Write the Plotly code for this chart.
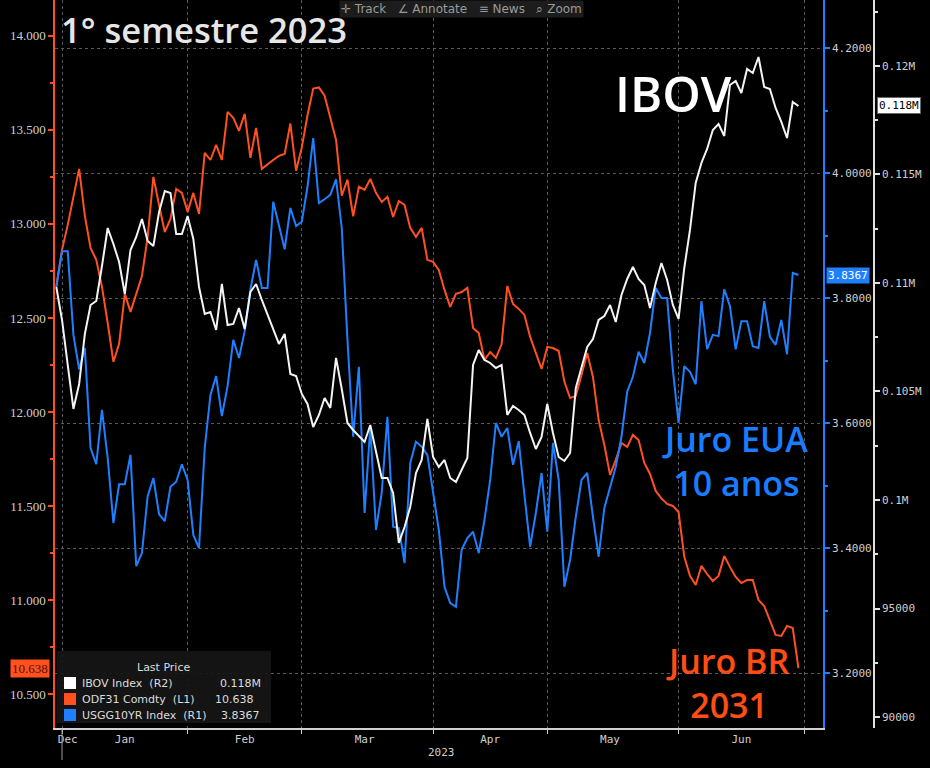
import pandas as pd
import plotly.graph_objects as go

# ---------------- data ----------------
dates = pd.bdate_range("2022-12-30", "2023-06-30")

odf31 = [12.665, 12.862, 12.995, 13.144, 13.293, 13.043, 12.872, 12.809, 12.665, 12.473,
         12.266, 12.362, 12.628, 12.532, 12.628, 12.723, 12.931, 13.250, 13.101, 12.957,
         13.027, 13.186, 13.165, 13.064, 13.165, 13.053, 13.378, 13.340, 13.420, 13.340,
         13.596, 13.564, 13.495, 13.585, 13.351, 13.511, 13.293, 13.319, 13.340, 13.362,
         13.372, 13.534, 13.283, 13.407, 13.578, 13.720, 13.726, 13.682, 13.569, 13.447,
         13.150, 13.236, 13.040, 13.198, 13.181, 13.239, 13.165, 13.117, 13.144, 13.037,
         13.122, 13.101, 12.979, 12.931, 12.979, 12.809, 12.798, 12.755, 12.649, 12.559,
         12.628, 12.638, 12.660, 12.447, 12.420, 12.277, 12.319, 12.287, 12.360, 12.670,
         12.574, 12.548, 12.516, 12.399, 12.314, 12.229, 12.346, 12.340, 12.324, 12.160,
         12.074, 12.085, 12.197, 12.314, 12.186, 11.957, 11.824, 11.665, 11.745, 11.835,
         11.814, 11.878, 11.851, 11.729, 11.670, 11.580, 11.540, 11.511, 11.500, 11.468,
         11.229, 11.128, 11.080, 11.181, 11.138, 11.101, 11.128, 11.234, 11.176, 11.122,
         11.090, 11.106, 11.106, 11.000, 10.968, 10.894, 10.814, 10.809, 10.862, 10.851,
         10.638]

usgg10yr = [3.818, 3.875, 3.875, 3.741, 3.686, 3.720, 3.560, 3.534, 3.621, 3.544,
            3.440, 3.502, 3.502, 3.549, 3.371, 3.392, 3.483, 3.512, 3.454, 3.443,
            3.498, 3.506, 3.534, 3.509, 3.421, 3.400, 3.560, 3.645, 3.675, 3.611,
            3.659, 3.733, 3.704, 3.747, 3.814, 3.861, 3.816, 3.816, 3.954, 3.917,
            3.878, 3.944, 3.915, 3.922, 3.978, 4.056, 3.952, 3.958, 3.965, 3.990,
            3.912, 3.733, 3.578, 3.690, 3.456, 3.594, 3.429, 3.488, 3.610, 3.434,
            3.432, 3.376, 3.536, 3.570, 3.562, 3.549, 3.490, 3.429, 3.338, 3.312,
            3.306, 3.397, 3.416, 3.426, 3.392, 3.445, 3.509, 3.600, 3.578, 3.592,
            3.533, 3.571, 3.485, 3.402, 3.456, 3.520, 3.426, 3.568, 3.509, 3.338,
            3.381, 3.450, 3.509, 3.520, 3.450, 3.386, 3.464, 3.498, 3.530, 3.578,
            3.650, 3.674, 3.714, 3.696, 3.744, 3.816, 3.800, 3.800, 3.685, 3.600,
            3.691, 3.682, 3.662, 3.795, 3.718, 3.741, 3.739, 3.814, 3.787, 3.718,
            3.763, 3.763, 3.723, 3.720, 3.795, 3.738, 3.725, 3.765, 3.710, 3.840,
            3.8367]

ibov = [109816, 108296, 106222, 104195, 105347, 107651, 108987, 109171, 110784, 112535,
        111798, 110968, 109494, 111521, 112120, 112950, 111936, 111706, 113272, 114240,
        114148, 112259, 112259, 113088, 112028, 109816, 108572, 108664, 107835, 109955,
        108065, 108111, 108849, 107881, 109586, 109955, 109217, 108572, 107835, 107190,
        107651, 105807, 105715, 104886, 104425, 103365, 103918, 104701, 104241, 106545,
        105116, 103549, 103227, 102950, 102674, 103457, 102167, 101015, 101015, 100324,
        98020, 98757, 99679, 101245, 101844, 103734, 101983, 101522, 101844, 101015,
        100831, 101384, 101937, 106222, 106913, 106452, 106314, 106084, 106222, 103918,
        104333, 104148, 103918, 103089, 102351, 102904, 104425, 103089, 101983, 101798,
        102167, 105162, 106084, 107052, 107420, 108296, 108480, 108987, 108204, 109448,
        110185, 110738, 110185, 109908, 108849, 110001, 110922, 110139, 108987, 108342,
        110692, 112443, 114609, 115530, 116175, 117051, 117327, 116774, 119124, 119309,
        118756, 119862, 119677, 120415, 119032, 118940, 118065, 117420, 116682, 118341,
        118157]

month_starts = ["2023-01-02", "2023-02-01", "2023-03-01", "2023-04-03",
                "2023-05-01", "2023-06-01", "2023-07-03"]
month_label_dates = ["2023-01-03", "2023-01-17", "2023-02-15", "2023-03-16",
                     "2023-04-17", "2023-05-16", "2023-06-16"]
month_labels = ["Dec", "Jan", "Feb", "Mar", "Apr", "May", "Jun"]

ibov_tickvals = [90000, 95000, 100000, 105000, 110000, 115000, 120000]
ibov_ticktext = ["90000", "95000", "0.1M", "0.105M", "0.11M", "0.115M", "0.12M"]

legend_names = ["IBOV Index\u00a0\u00a0(R2)", "ODF31 Comdty\u00a0\u00a0(L1)", "USGG10YR Index\u00a0\u00a0(R1)"]
legend_values = ["0.118M", "10.638", "3.8367"]

# ---------------- style ----------------
ORANGE = "#ff5020"
BLUE = "#1f80ff"
WHITE = "#f4f4f4"
GRID = "#5a5a5a"
TICKTXT = "#cfcfcf"
MONO = "DejaVu Sans Mono"

W, H = 930, 768
ML, MR, MT, MB = 55, 56, 0, 40
PW, PH = W - ML - MR, H - MT - MB
XDOM = (823 - ML) / PW


def xp(px):
    return (px - ML) / PW


def yp(py):
    return (H - MB - py) / PH


fig = go.Figure()
fig.add_trace(go.Scatter(x=dates, y=odf31, yaxis="y", mode="lines",
                         line=dict(color=ORANGE, width=2), name="ODF31 Comdty", showlegend=False))
fig.add_trace(go.Scatter(x=dates, y=usgg10yr, yaxis="y2", mode="lines",
                         line=dict(color=BLUE, width=2), name="USGG10YR Index", showlegend=False))
fig.add_trace(go.Scatter(x=dates, y=ibov, yaxis="y3", mode="lines",
                         line=dict(color=WHITE, width=2), name="IBOV Index", showlegend=False))

fig.update_layout(
    width=W, height=H, autosize=False,
    margin=dict(l=ML, r=MR, t=MT, b=MB, pad=0),
    paper_bgcolor="black", plot_bgcolor="black",
    showlegend=False,
    xaxis=dict(
        domain=[0, XDOM], type="date",
        range=["2022-12-29 18:30", "2023-07-06 07:12"],
        rangebreaks=[dict(bounds=["sat", "mon"])],
        tickmode="array", tickvals=month_label_dates, ticktext=month_labels, ticks="",
        tickfont=dict(family=MONO, size=11, color=TICKTXT),
        showgrid=False, zeroline=False,
        showline=True, linecolor="#d0d0d0", linewidth=1.5,
        minor=dict(tickmode="array", tickvals=month_starts, ticks="outside", ticklen=4,
                   tickcolor="#d0d0d0", showgrid=True, gridcolor=GRID, griddash="dot", gridwidth=1),
    ),
    yaxis=dict(
        range=[10.319, 14.191], tickmode="linear", tick0=10.5, dtick=0.5, tickformat=".3f",
        side="left", showline=True, linecolor=ORANGE, linewidth=1.5,
        ticks="outside", ticklen=5, tickwidth=1.5, tickcolor=ORANGE,
        tickfont=dict(family="Liberation Serif", size=13, color=TICKTXT),
        showgrid=False, zeroline=False,
        minor=dict(tickmode="linear", tick0=10.5, dtick=0.25, ticks="outside", ticklen=3,
                   tickcolor=ORANGE, showgrid=False),
    ),
    yaxis2=dict(
        overlaying="y", side="right", anchor="x",
        range=[3.112, 4.2768], tickmode="linear", tick0=3.2, dtick=0.2, tickformat=".4f",
        showline=True, linecolor=BLUE, linewidth=1.5,
        ticks="outside", ticklen=5, tickwidth=1.5, tickcolor=BLUE,
        tickfont=dict(family=MONO, size=11, color=TICKTXT),
        showgrid=True, gridcolor=GRID, griddash="dot", gridwidth=1, zeroline=False,
        minor=dict(tickmode="linear", tick0=3.2, dtick=0.1, ticks="outside", ticklen=3,
                   tickcolor=BLUE, showgrid=False),
    ),
    yaxis3=dict(
        overlaying="y", side="right", anchor="free", position=1.0,
        range=[89493, 123041], tickmode="array", tickvals=ibov_tickvals, ticktext=ibov_ticktext,
        showline=True, linecolor="#e0e0e0", linewidth=1.5,
        ticks="outside", ticklen=5, tickwidth=1.5, tickcolor="#e0e0e0",
        tickfont=dict(family=MONO, size=11, color=TICKTXT),
        showgrid=False, zeroline=False,
        minor=dict(tickmode="linear", tick0=0, dtick=2500, ticks="outside", ticklen=3,
                   tickcolor="#e0e0e0", showgrid=False),
    ),
)

ann = []
# title and big labels
ann.append(dict(text="1° semestre 2023", xref="paper", yref="paper", x=xp(59), y=yp(30),
                xanchor="left", yanchor="middle", showarrow=False,
                font=dict(family="Open Sans", size=34.5, color="#e6e6e6", weight=600)))
ann.append(dict(text="IBOV", xref="paper", yref="paper", x=xp(673), y=yp(93),
                xanchor="center", yanchor="middle", showarrow=False,
                font=dict(family="Open Sans", size=49, color="#ffffff", weight=600)))
ann.append(dict(text="Juro EUA<br>10 anos", xref="paper", yref="paper", x=xp(735), y=yp(461),
                xanchor="center", yanchor="middle", align="center", showarrow=False,
                font=dict(family="Open Sans", size=34, color="#1a7cff", weight=600)))
ann.append(dict(text="Juro BR<br>2031", xref="paper", yref="paper", x=xp(727), y=yp(683),
                xanchor="center", yanchor="middle", align="center", showarrow=False,
                font=dict(family="Open Sans", size=34, color="#ff4d14", weight=600)))

# toolbar
ann.append(dict(text="\u271b Track\u00a0\u00a0\u00a0\u2220 Annotate\u00a0\u00a0\u00a0\u2261 News\u00a0\u00a0\u00a0\u2315 Zoom",
                xref="paper", yref="paper", x=xp(461), y=1.0, xanchor="center", yanchor="top",
                showarrow=False, bgcolor="#1c1c1c", borderpad=1,
                font=dict(family="DejaVu Sans", size=12, color="#9a9a9a")))

# last value tags
ann.append(dict(text="10.638", xref="paper", yref="y", x=xp(50), y=odf31[-1],
                xanchor="right", yanchor="middle", showarrow=False, bgcolor=ORANGE, borderpad=1,
                font=dict(family="Liberation Serif", size=13, color="#5a0e00")))
ann.append(dict(text="3.8367", xref="paper", yref="y2", x=XDOM, y=usgg10yr[-1], xshift=3,
                xanchor="left", yanchor="middle", showarrow=False, bgcolor=BLUE, borderpad=1,
                font=dict(family=MONO, size=11, color="#ffffff")))
ann.append(dict(text="0.118M", xref="paper", yref="y3", x=1.0, y=ibov[-1], xshift=3,
                xanchor="left", yanchor="middle", showarrow=False, bgcolor="#ffffff", borderpad=1,
                bordercolor="#666666", borderwidth=1,
                font=dict(family=MONO, size=11, color="#000000")))

# year label
ann.append(dict(text="2023", xref="paper", yref="paper", x=xp(441), y=yp(752),
                xanchor="center", yanchor="middle", showarrow=False,
                font=dict(family=MONO, size=11, color=TICKTXT)))

# legend box
ann.append(dict(text="Last Price", xref="paper", yref="paper", x=xp(163), y=yp(667),
                xanchor="center", yanchor="middle", showarrow=False,
                font=dict(family="DejaVu Sans", size=11, color="#dcdcdc")))
shapes = [dict(type="rect", xref="paper", yref="paper", x0=xp(57), x1=xp(271), y0=yp(723), y1=yp(651),
               fillcolor="rgba(22,22,22,0.92)", line=dict(width=0), layer="above")]
row_y = [683, 699, 715]
row_colors = ["#ffffff", ORANGE, BLUE]
value_right = [263, 256, 262]
for name, val, ry, col, vr in zip(legend_names, legend_values, row_y, row_colors, value_right):
    shapes.append(dict(type="rect", xref="paper", yref="paper", x0=xp(64), x1=xp(76),
                       y0=yp(ry + 6), y1=yp(ry - 6), fillcolor=col, line=dict(width=0), layer="above"))
    ann.append(dict(text=name, xref="paper", yref="paper", x=xp(80), y=yp(ry),
                    xanchor="left", yanchor="middle", showarrow=False,
                    font=dict(family="DejaVu Sans", size=11, color="#dcdcdc")))
    ann.append(dict(text=val, xref="paper", yref="paper", x=xp(vr), y=yp(ry),
                    xanchor="right", yanchor="middle", showarrow=False,
                    font=dict(family="DejaVu Sans", size=11, color="#dcdcdc")))

# year separator tick below the axis
shapes.append(dict(type="line", xref="x", yref="paper", x0=month_starts[0], x1=month_starts[0],
                   y0=yp(729), y1=yp(760), line=dict(color="#9a9a9a", width=1)))

fig.update_layout(annotations=ann, shapes=shapes)
fig.write_html("out.html")
